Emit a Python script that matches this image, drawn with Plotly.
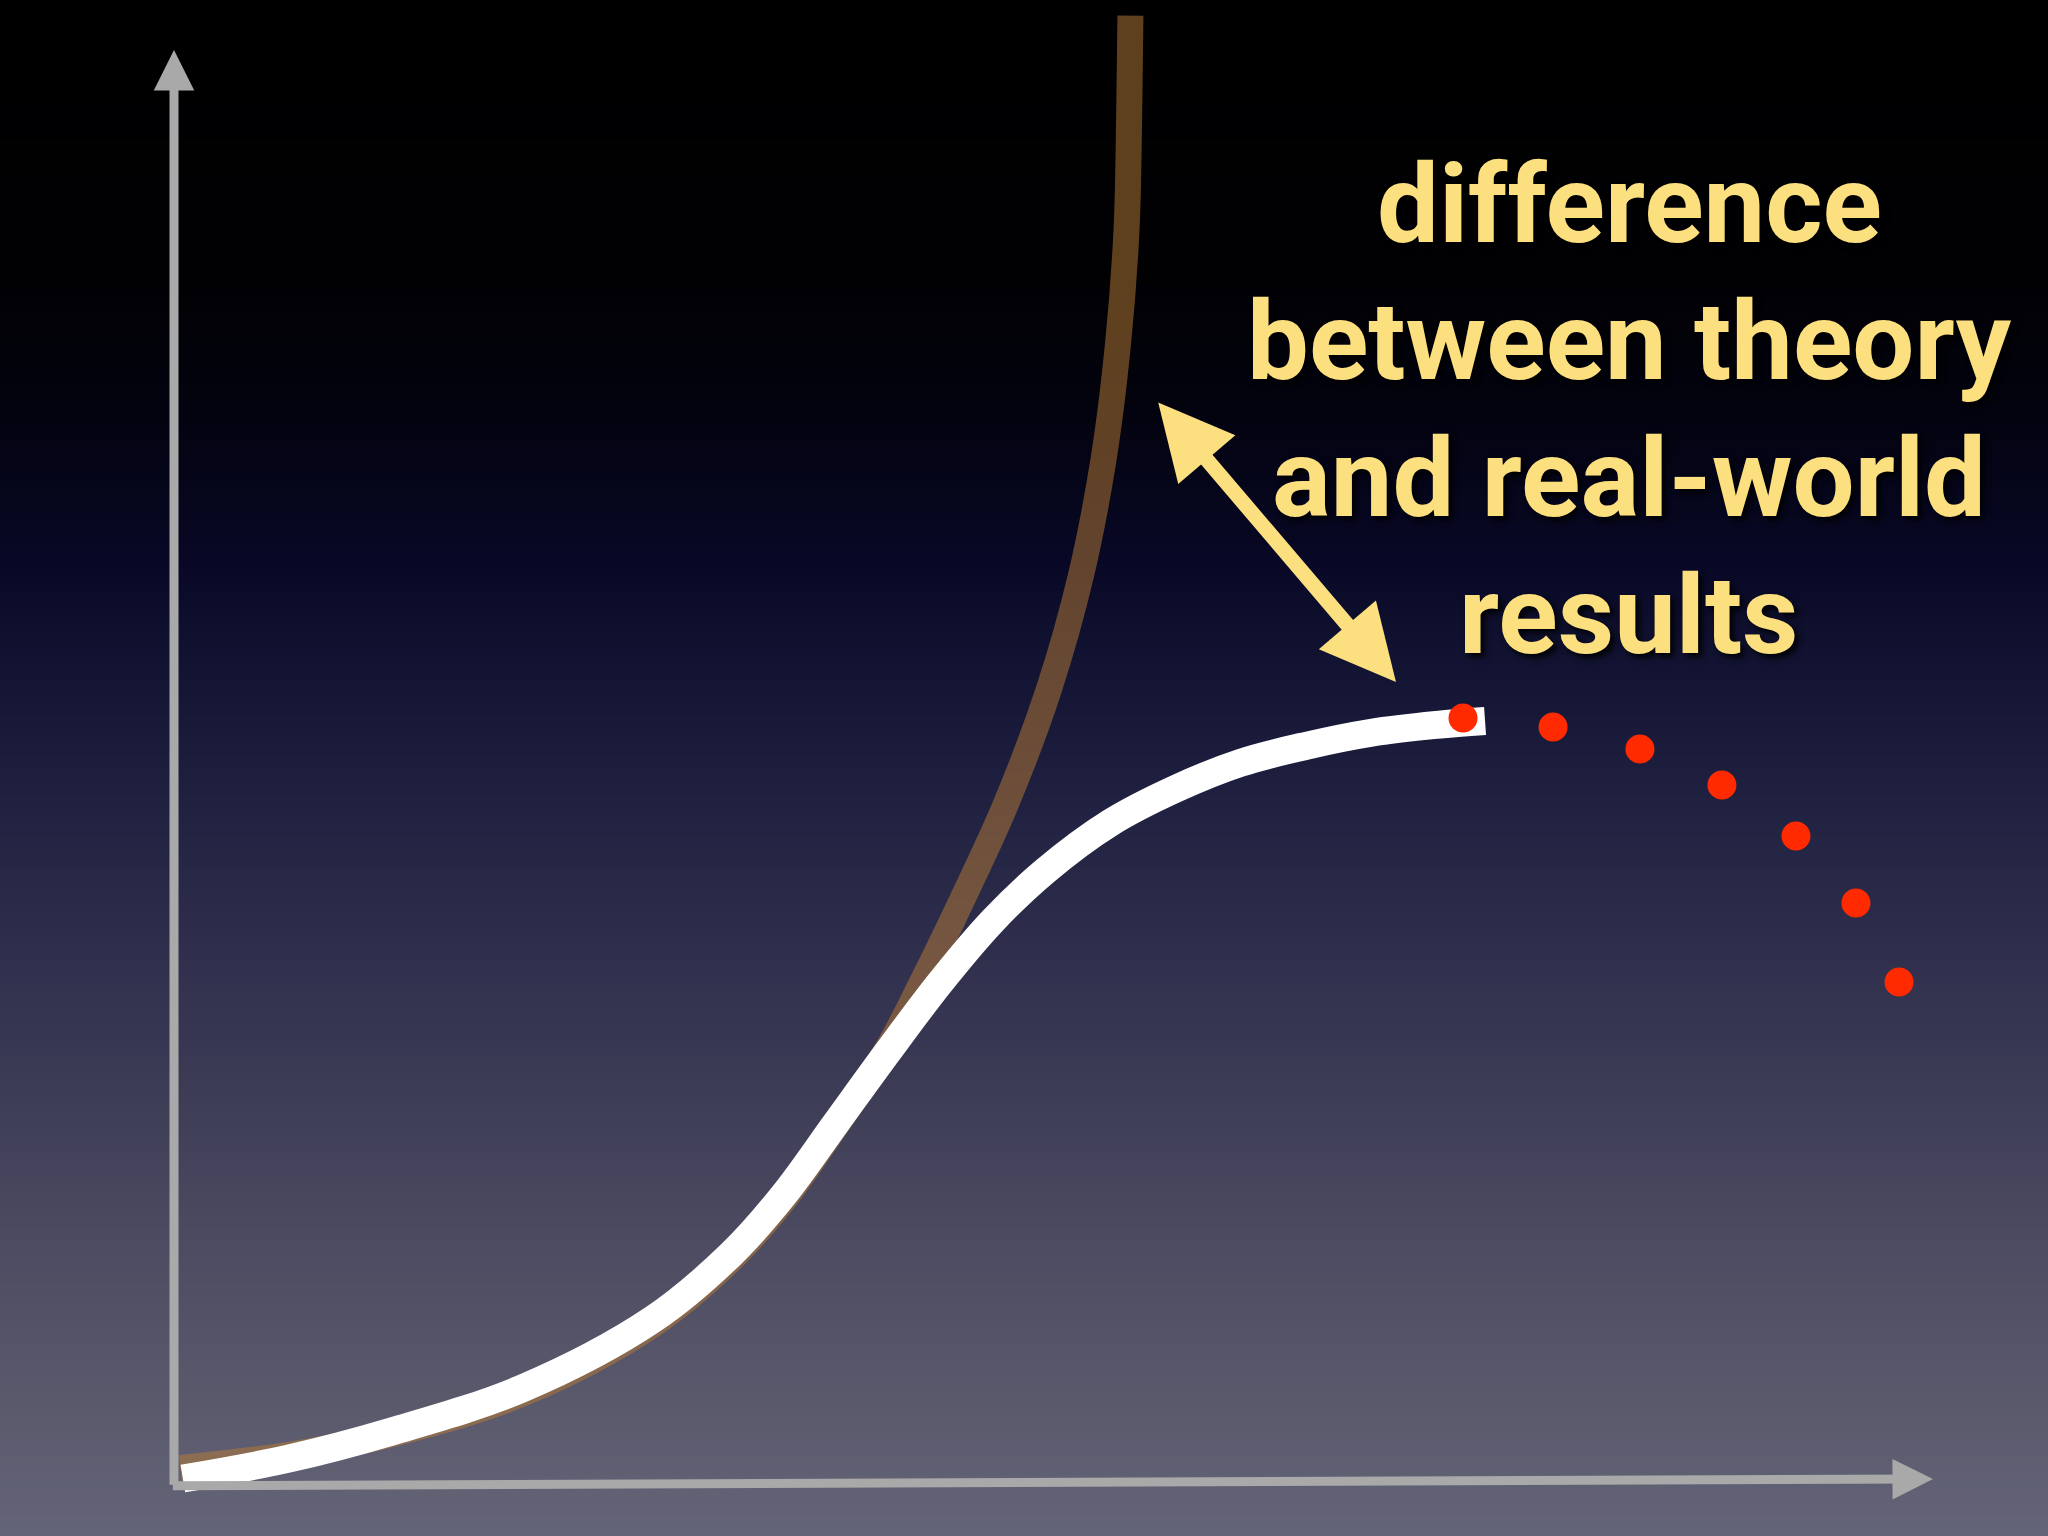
import plotly.graph_objects as go

W, H = 2048, 1536
# mapping of chart units to the page (origin of the drawn axes)
ORIGIN_PX = (174, 1484)
PX_PER_X = 175.9
PX_PER_Y = 143.4

# ---- data (chart units: the axis arrows run from 0 to 10) ----
theory_x = [0.0355, 0.6444, 1.2384, 1.9809, 2.7235, 3.1690, 3.4660, 3.7630, 4.0600, 4.2530,
            4.4907, 4.7283, 4.9733, 5.1589, 5.2852, 5.3669, 5.4151, 5.4300, 5.4374]
theory_y = [0.1112, 0.2023, 0.3480, 0.6304, 1.1131, 1.5685, 1.9784, 2.4975, 3.0440, 3.4994,
            4.1006, 4.7381, 5.5396, 6.3502, 7.1518, 7.9533, 8.7457, 9.5290, 10.2394]

real_x = [0.0503, 0.6443, 1.2384, 1.9809, 2.7235, 3.1690, 3.4660, 3.7630, 4.0600, 4.3570,
          4.6540, 4.9510, 5.3223, 5.6936, 6.0648, 6.4361, 6.8074, 7.1786, 7.4534]
real_y = [0.0383, 0.1750, 0.3662, 0.6668, 1.1495, 1.6049, 2.0148, 2.5157, 3.0167, 3.4994,
          3.9275, 4.2736, 4.6106, 4.8474, 5.0296, 5.1480, 5.2391, 5.2937, 5.3210]

drop_x = [7.328, 7.840, 8.334, 8.800, 9.221, 9.562, 9.807]
drop_y = [5.342, 5.279, 5.126, 4.874, 4.519, 4.052, 3.501]

label_lines = ["difference", "between theory", "and real-world", "results"]

# ---- styling ----
bg_stop_px = [-60, 0, 280, 420, 560, 680, 820, 1000, 1200, 1400, 1536, 1600]
bg_stop_col = ["#000000", "#000000", "#010104", "#030310", "#080826", "#141534",
               "#222242", "#343350", "#48475e", "#5a596c", "#646478", "#646478"]
THEORY_COLOR = "rgba(182,122,54,0.52)"
YELLOW = "#fcdf7e"
AXIS_GREY = "#a9a9a9"
FS = 110
FONT = "Liberation Sans Narrow, Roboto, Arial, sans-serif"
line_baseline_px = [242, 379, 516, 653]
text_center_px = 1629

fig = go.Figure()

# background gradient on the base axes (pixel space)
lo, hi = bg_stop_px[0], bg_stop_px[-1]
fig.add_trace(go.Heatmap(
    x=[-60, W + 60], y=bg_stop_px, z=[[p, p] for p in bg_stop_px],
    colorscale=[[(p - lo) / (hi - lo), c] for p, c in zip(bg_stop_px, bg_stop_col)],
    zsmooth="best", showscale=False, hoverinfo="skip", xaxis="x", yaxis="y"))

# theory curve
fig.add_trace(go.Scatter(
    x=theory_x, y=theory_y, mode="lines",
    line=dict(color=THEORY_COLOR, width=26, shape="spline", smoothing=1.0),
    hoverinfo="skip", showlegend=False, xaxis="x2", yaxis="y2"))

# real-world curve
fig.add_trace(go.Scatter(
    x=real_x, y=real_y, mode="lines",
    line=dict(color="#ffffff", width=28, shape="spline", smoothing=1.0),
    hoverinfo="skip", showlegend=False, xaxis="x2", yaxis="y2"))

# dropping-off results
fig.add_trace(go.Scatter(
    x=drop_x, y=drop_y, mode="markers",
    marker=dict(color="#ff2a00", size=29, line=dict(width=0)),
    hoverinfo="skip", showlegend=False, xaxis="x2", yaxis="y2"))

annotations = []
# axes arrows
annotations.append(dict(x=0, y=10, ax=0, ay=-0.015, xref="x2", yref="y2", axref="x2", ayref="y2",
                        text="", showarrow=True, arrowhead=2, arrowsize=0.9, arrowwidth=9,
                        arrowcolor=AXIS_GREY, standoff=0))
annotations.append(dict(x=10, y=0.035, ax=-0.015, ay=-0.012, xref="x2", yref="y2", axref="x2", ayref="y2",
                        text="", showarrow=True, arrowhead=2, arrowsize=0.9, arrowwidth=9,
                        arrowcolor=AXIS_GREY, standoff=0))
# double-headed yellow arrow
annotations.append(dict(x=6.947, y=5.593, ax=5.588, ay=7.552, xref="x2", yref="y2", axref="x2", ayref="y2",
                        text="", showarrow=True, arrowside="end+start",
                        arrowhead=2, startarrowhead=2, arrowsize=1.0, startarrowsize=1.0,
                        arrowwidth=15, arrowcolor=YELLOW, standoff=0, startstandoff=0))
# label lines
for txt, base in zip(label_lines, line_baseline_px):
    mid = base - 0.342 * FS
    annotations.append(dict(
        x=text_center_px / W, y=1 - mid / H, xref="paper", yref="paper",
        xanchor="center", yanchor="middle", showarrow=False, text=txt,
        font=dict(family=FONT, size=FS, color=YELLOW, weight="bold",
                  shadow="4px 4px 6px rgba(0,0,0,0.9)")))

x2_range = [-ORIGIN_PX[0] / PX_PER_X, (W - ORIGIN_PX[0]) / PX_PER_X]
y2_range = [-(H - ORIGIN_PX[1]) / PX_PER_Y, ORIGIN_PX[1] / PX_PER_Y]

hidden = dict(visible=False, showgrid=False, zeroline=False, showticklabels=False, fixedrange=True)
fig.update_layout(
    width=W, height=H, margin=dict(l=0, r=0, t=0, b=0),
    paper_bgcolor="#000000", plot_bgcolor="#000000",
    showlegend=False, hovermode=False,
    xaxis=dict(range=[0, W], domain=[0, 1], **hidden),
    yaxis=dict(range=[H, 0], domain=[0, 1], **hidden),
    xaxis2=dict(range=x2_range, overlaying="x", **hidden),
    yaxis2=dict(range=y2_range, overlaying="y", **hidden),
    annotations=annotations,
)

fig.write_html("out.html", config={"displayModeBar": False},
               post_script="document.body.style.margin='0';document.body.style.overflow='hidden';")
